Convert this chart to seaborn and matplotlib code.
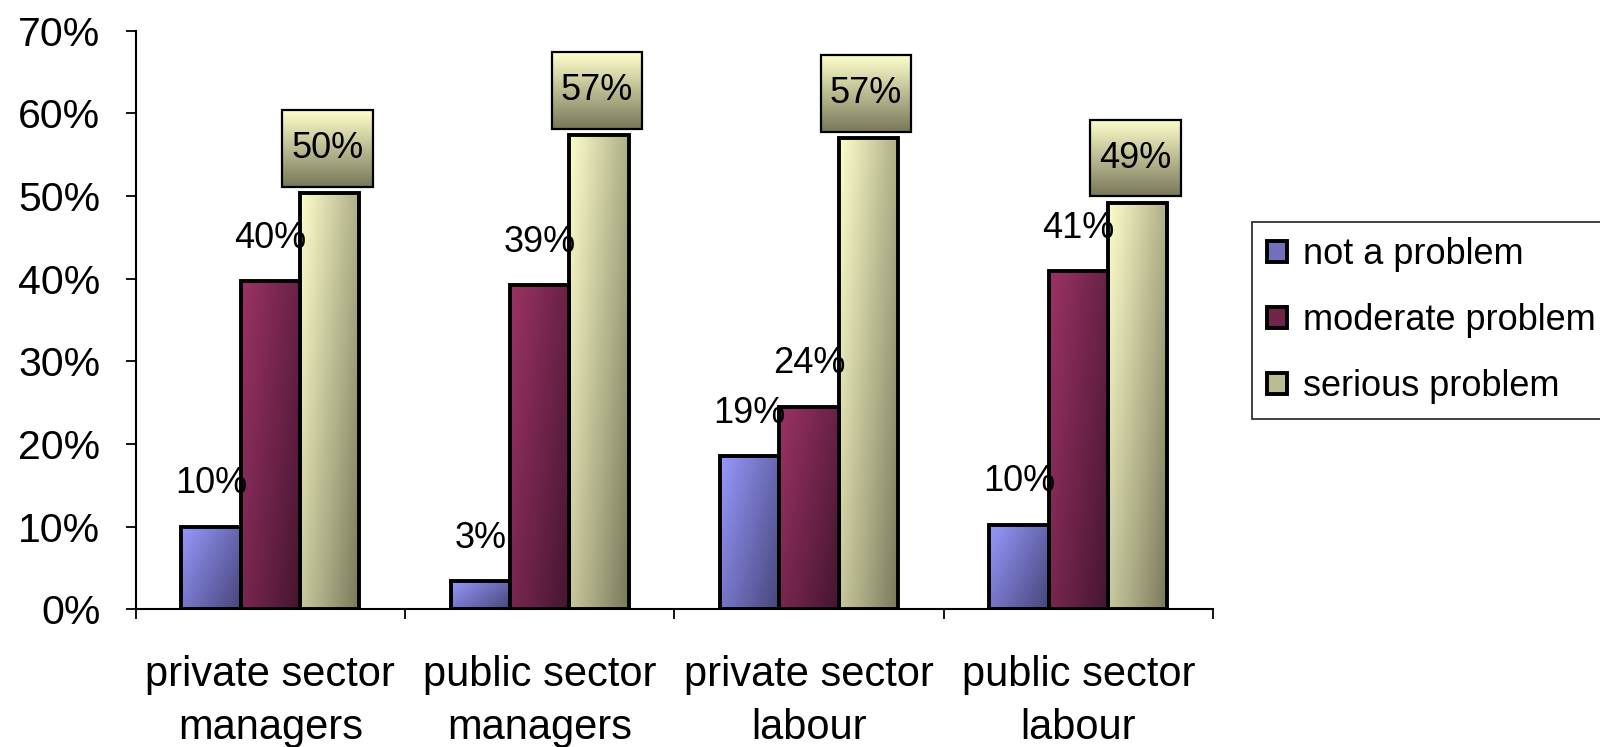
import numpy as np
import pandas as pd
import matplotlib
matplotlib.use("Agg")
import matplotlib.pyplot as plt
import seaborn as sns
from matplotlib.patches import Rectangle, Patch
from matplotlib.colors import to_rgb

# ---------------- data ----------------
categories = ["private sector\nmanagers", "public sector\nmanagers",
              "private sector\nlabour", "public sector\nlabour"]
series = ["not a problem", "moderate problem", "serious problem"]
not_a_problem = [10.0, 3.4, 18.5, 10.2]
moderate_problem = [39.7, 39.2, 24.5, 40.9]
serious_problem = [50.4, 57.4, 57.0, 49.2]
labels_not = ["10%", "3%", "19%", "10%"]
labels_moderate = ["40%", "39%", "24%", "41%"]
labels_serious = ["50%", "57%", "57%", "49%"]
yticks = [0, 10, 20, 30, 40, 50, 60, 70]
ytick_labels = ["0%", "10%", "20%", "30%", "40%", "50%", "60%", "70%"]

values = [not_a_problem, moderate_problem, serious_problem]
value_labels = [labels_not, labels_moderate, labels_serious]

# ---------------- style ----------------
light = ["#9999ff", "#9c3366", "#ffffcc"]
dark = ["#45457a", "#45152f", "#78785a"]
mid = ["#7070bb", "#70244a", "#bcbc92"]

sns.set_theme(style="white")
plt.rcParams["font.family"] = ["Liberation Sans", "DejaVu Sans"]
plt.rcParams["text.color"] = "black"
plt.rcParams["xtick.color"] = "black"
plt.rcParams["ytick.color"] = "black"
plt.rcParams["xtick.labelcolor"] = "black"
plt.rcParams["ytick.labelcolor"] = "black"

rows = []
for s, vals in zip(series, values):
    for c, v in zip(categories, vals):
        rows.append({"category": c, "series": s, "value": v})
df = pd.DataFrame(rows)

fig = plt.figure(figsize=(16, 7.47), dpi=100)
ax = fig.add_axes([0.0848, 0.1845, 0.6733, 0.7745])

sns.barplot(data=df, x="category", y="value", hue="series",
            order=categories, hue_order=series, palette=mid,
            width=0.66, edgecolor="black", linewidth=2.8,
            legend=False, ax=ax, zorder=3)


def gradient_img(c_light, c_dark, diag=True, n=200):
    u = np.linspace(0, 1, n)[None, :]
    v = np.linspace(0, 1, n)[:, None]  # 0 bottom, 1 top (origin lower)
    if diag:
        t = 0.6 * u + 0.4 * (1 - v)
    else:
        t = (1 - v) * np.ones_like(u)
    l = np.array(to_rgb(c_light))
    d = np.array(to_rgb(c_dark))
    return l[None, None, :] + (d - l)[None, None, :] * t[:, :, None]


for si, cont in enumerate(ax.containers):
    img = gradient_img(light[si], dark[si])
    for bar in cont:
        x, y = bar.get_x(), bar.get_y()
        w, h = bar.get_width(), bar.get_height()
        bar.set_facecolor("none")
        im = ax.imshow(img, extent=[x, x + w, y, y + h], origin="lower",
                       aspect="auto", zorder=2.5, interpolation="bilinear")
        im.set_clip_path(bar)

# value labels
for si, cont in enumerate(ax.containers):
    for bi, bar in enumerate(cont):
        xc = bar.get_x() + bar.get_width() / 2
        top = bar.get_height()
        lab = value_labels[si][bi]
        if si < 2:
            ax.text(xc, top + 5.2, lab, ha="center", va="center",
                    fontsize=26, color="black", zorder=6)
        else:
            bw, bh = 0.336, 9.26
            bx = xc - 0.008 - bw / 2
            by = top + 0.74
            rect = Rectangle((bx, by), bw, bh, facecolor="none",
                             edgecolor="black", linewidth=1.6, zorder=5)
            ax.add_patch(rect)
            gimg = gradient_img("#ffffcc", "#78785a", diag=False)
            im = ax.imshow(gimg, extent=[bx, bx + bw, by, by + bh],
                           origin="lower", aspect="auto", zorder=4.8,
                           interpolation="bilinear")
            im.set_clip_path(rect)
            ax.text(bx + bw / 2, by + bh / 2, lab, ha="center", va="center",
                    fontsize=26, color="black", zorder=6)

# axes
ax.set_xlim(-0.5, 3.5)
ax.set_ylim(0, 70)
ax.set_yticks(yticks)
ax.set_yticklabels(ytick_labels, fontsize=29.5)
ax.set_xticks(range(len(categories)))
ax.set_xticklabels(categories, fontsize=30, linespacing=1.41)
ax.set_xticks([-0.5, 0.5, 1.5, 2.5, 3.5], minor=True)
ax.tick_params(axis="x", which="major", length=0, pad=33)
ax.tick_params(axis="x", which="minor", length=7.5, width=1.3,
               direction="out", color="black", bottom=True)
ax.tick_params(axis="y", which="major", length=7.5, width=1.3,
               direction="out", color="black", left=True, pad=18)
ax.set_xlabel("")
ax.set_ylabel("")
for side in ["top", "right"]:
    ax.spines[side].set_visible(False)
for side in ["left", "bottom"]:
    ax.spines[side].set_color("black")
    ax.spines[side].set_linewidth(1.5)
ax.grid(False)

handles = [Patch(facecolor=mid[i], edgecolor="black", linewidth=2.8,
                 label=series[i]) for i in range(3)]
leg = fig.legend(handles=handles, loc="upper left",
                 bbox_to_anchor=(1252 / 1600, 1 - 222 / 747),
                 frameon=True, fancybox=False, edgecolor="black",
                 fontsize=26, handlelength=0.55, handleheight=0.55,
                 handletextpad=0.45, labelspacing=0.86, borderpad=0.42,
                 borderaxespad=0)
leg.get_frame().set_linewidth(1.3)

fig.savefig("out.png", dpi=100)
